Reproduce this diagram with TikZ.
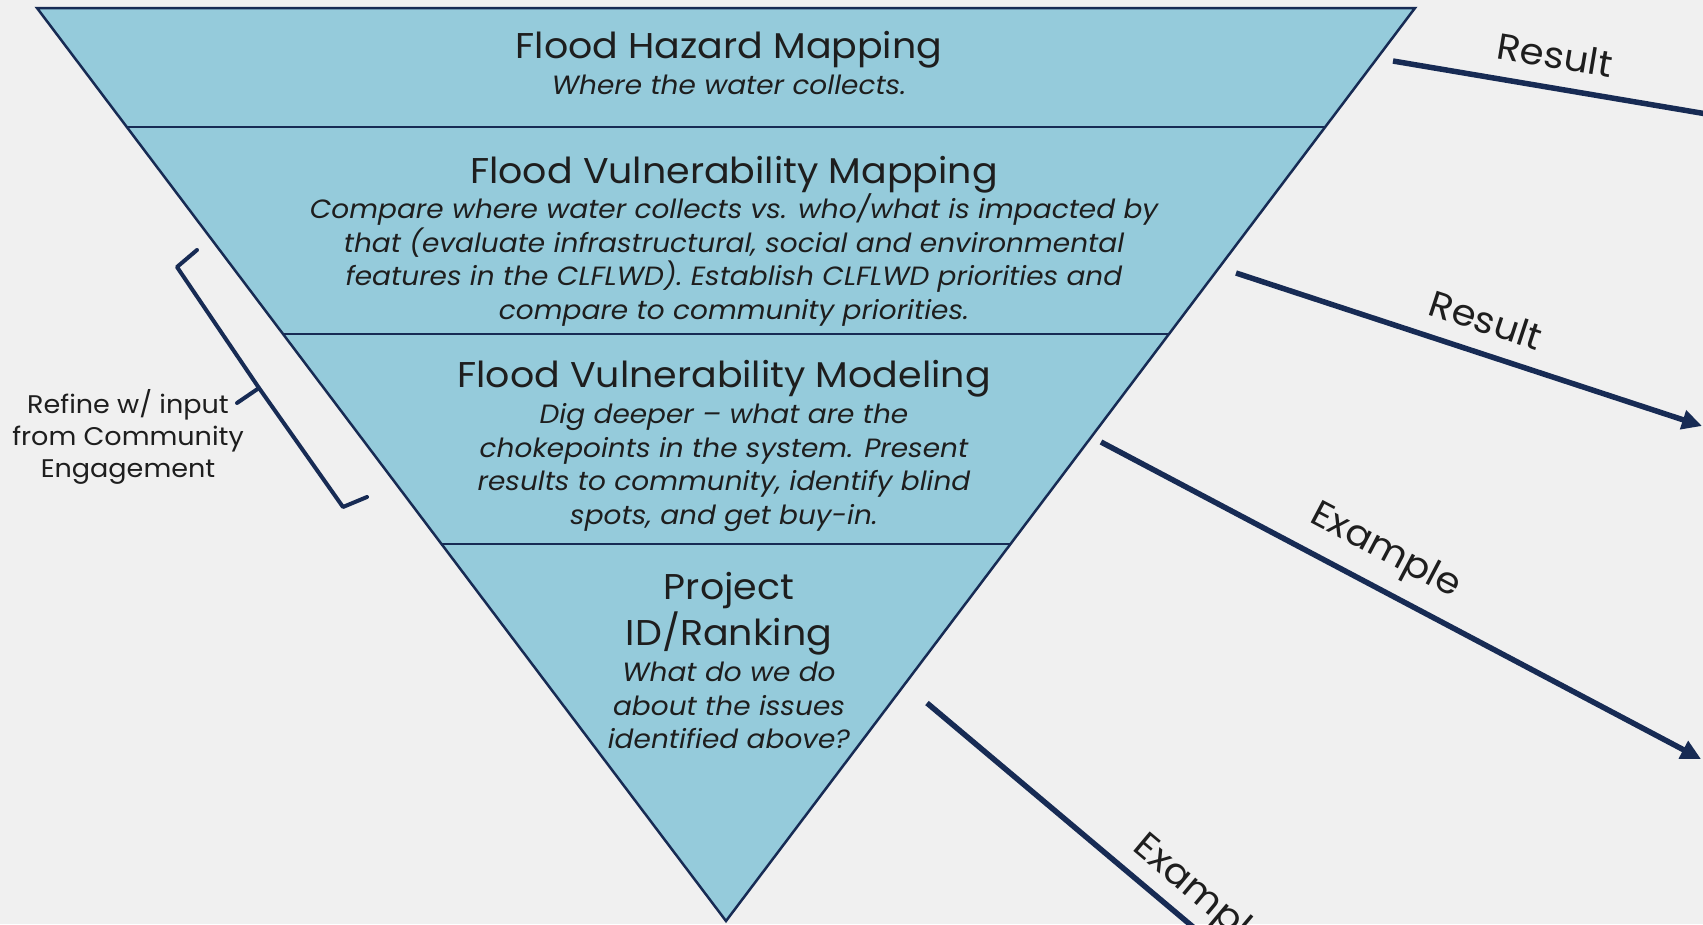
\documentclass[tikz,border=0pt]{standalone}
\usepackage{fontspec}
\setmainfont{Poppins}[FakeStretch=1.06]
\usetikzlibrary{arrows.meta,calc}
\definecolor{bg}{HTML}{F0F0F0}
\definecolor{fillc}{HTML}{95CBDB}
\definecolor{navy}{HTML}{172B54}
\definecolor{txt}{HTML}{1E1E1E}
\begin{document}
\begin{tikzpicture}[x=1pt,y=-1pt,
  ttl/.style={font=\fontsize{35.8}{45.6}\selectfont, text=txt, align=center, inner sep=0pt},
  sub/.style={font=\fontsize{26.4}{33.5}\selectfont\itshape, text=txt, align=center, inner sep=0pt},
  side/.style={font=\fontsize{25.5}{32}\selectfont, text=txt, align=center, inner sep=0pt},
  lbl/.style={font=\fontsize{36.5}{40}\selectfont, text=txt, inner sep=0pt},
  conn/.style={draw=navy, line width=5.5pt, -{Triangle[length=20pt,width=19pt]}},
  edge/.style={draw=navy, line width=2.5pt},
  brace/.style={draw=navy, line width=4pt, line join=round, line cap=round}]
\useasboundingbox (0,0) rectangle (1703,924);
\clip (0,0) rectangle (1703,924);
\fill[bg] (0,0) rectangle (1703,924);
% triangle corners
\coordinate (TL) at (37,8);
\coordinate (TR) at (1415,8);
\coordinate (B) at (726,921);
\fill[fillc] (TL) -- (TR) -- (B) -- cycle;
% dividers
\foreach \t/\n in {0.1303/a,0.3571/b,0.5871/c}{
  \coordinate (L\n) at ($(TL)!\t!(B)$);
  \coordinate (R\n) at ($(TR)!\t!(B)$);
  \draw[edge] (L\n) -- (R\n);
}
\draw[edge, line join=miter] (TL) -- (TR) -- (B) -- cycle;
% texts
\node[ttl] (t1) at (729,50) {Flood Hazard Mapping};
\node[sub] (s1) at (729,85) {Where the water collects.};
\node[ttl] (t2) at (734,175) {Flood Vulnerability Mapping};
\node[sub] (s2) at (734,260) {Compare where water collects vs. who/what is impacted by\\that (evaluate infrastructural, social and environmental\\features in the CLFLWD). Establish CLFLWD priorities and\\compare to community priorities.};
\node[ttl] (t3) at (724,379) {Flood Vulnerability Modeling};
\node[sub] (s3) at (724,467.5) {Dig deeper -- what are the\\chokepoints in the system. Present\\results to community, identify blind\\spots, and get buy-in.};
\node[ttl] (t4) at (729,614) {Project\\ID/Ranking};
\node[sub] (s4) at (729,705.5) {What do we do\\about the issues\\identified above?};
% side label and brace
\node[side] (refine) at (128,437) {Refine w/ input\\from Community\\Engagement};
\coordinate (br1) at (197,250);
\coordinate (br2) at (177,267);
\coordinate (brm) at (259,388);
\coordinate (brt) at (237,403);
\coordinate (br3) at (343,507);
\coordinate (br4) at (367,497);
\draw[brace] (br1) -- (br2) -- (brm) -- (br3) -- (br4);
\draw[brace] (brm) -- (brt);
% arrows
\coordinate (a1s) at (1393,61);
\coordinate (a1e) at (1760,123);
\coordinate (a2s) at (1236,273);
\coordinate (a2e) at (1702,426);
\coordinate (a3s) at (1101,442);
\coordinate (a3e) at (1701,759);
\coordinate (a4s) at (927,703);
\coordinate (a4e) at (1300,1017);
\draw[conn] (a1s) -- (a1e);
\draw[conn] (a2s) -- (a2e);
\draw[conn] (a3s) -- (a3e);
\draw[conn] (a4s) -- (a4e);
\node[lbl, rotate=-9.5] (l1) at (1555,55) {Result};
\node[lbl, rotate=-18.2] (l2) at (1486,320) {Result};
\node[lbl, rotate=-27.8] (l3) at (1385,552) {Example};
\node[lbl, rotate=-40] (l4) at (1200,896) {Example};
\end{tikzpicture}
\end{document}
